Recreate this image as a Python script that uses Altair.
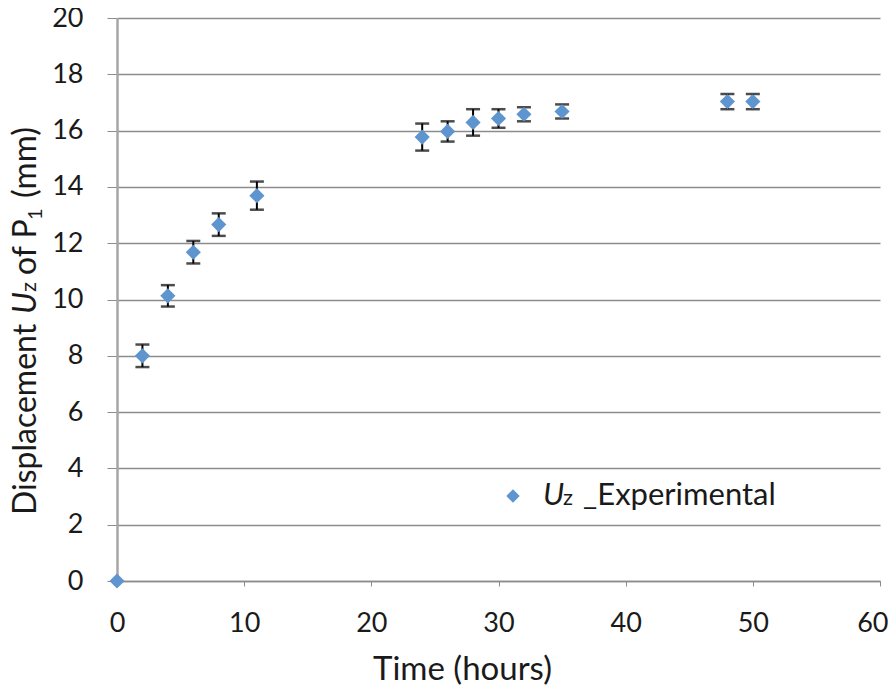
import altair as alt
import pandas as pd

time_h = [0, 2, 4, 6, 8, 11, 24, 26, 28, 30, 32, 35, 48, 50]
disp = [0, 8.0, 10.13, 11.68, 12.66, 13.69, 15.77, 15.97, 16.29, 16.43, 16.58, 16.68, 17.03, 17.03]
err = [0, 0.4, 0.38, 0.4, 0.4, 0.5, 0.48, 0.36, 0.47, 0.33, 0.25, 0.25, 0.27, 0.27]

x_ticks = [0, 10, 20, 30, 40, 50, 60]
y_ticks = list(range(0, 21, 2))

df = pd.DataFrame({"t": time_h, "u": disp, "e": err})
df["lo"] = df["u"] - df["e"]
df["hi"] = df["u"] + df["e"]

FONT = "Lato"
BLUE = "#5f95cf"
TXT = "#1a1a1a"
GRID = "#8c8c8c"

x_enc = alt.X("t:Q", scale=alt.Scale(domain=[0, 60], nice=False),
              axis=alt.Axis(values=x_ticks, title="Time (hours)",
                            grid=False, ticks=True, tickSize=5, tickColor=GRID,
                            labelPadding=24, labelFlush=False, labelBound=False,
                            labelAlign=alt.ExprRef("datum.value == 60 ? 'right' : 'center'"),
                            labelOffset=alt.ExprRef("datum.value == 60 ? 8 : 0"),
                            titleX=345, titleY=98, titleBaseline="alphabetic",
                            titleAlign="center", titleAnchor="start",
                            domainColor=GRID, domainWidth=1.5))
y_axis = alt.Axis(values=y_ticks, title=None,
                  grid=True, gridColor=GRID, gridWidth=1.3,
                  ticks=True, tickSize=10, tickColor=GRID, labelPadding=24,
                  labelFlush=False, labelBound=False,
                  domainColor="#a6a6a6", domainWidth=2.5)

base = alt.Chart(df)

points = base.mark_point(shape="diamond", filled=True, size=230, color=BLUE, opacity=1).encode(
    x=x_enc,
    y=alt.Y("u:Q", scale=alt.Scale(domain=[0, 20], nice=False), axis=y_axis),
)

bars = base.transform_filter("datum.e > 0").mark_errorbar(
    ticks={"size": 14, "thickness": 2.5, "color": "black"}, thickness=2, color="black"
).encode(
    x="t:Q",
    y=alt.Y("lo:Q", title=None),
    y2="hi:Q",
)

one = pd.DataFrame({"k": [0]})


def txt(s, x, y, size, angle=0, italic=False):
    kw = dict(text=s, font=FONT, fontSize=size, align="left", baseline="alphabetic", color=TXT)
    if angle:
        kw["angle"] = angle
    if italic:
        kw["fontStyle"] = "italic"
    return alt.Chart(one).mark_text(**kw).encode(x=alt.value(x), y=alt.value(y))


# legend (inside plot)
leg_pt = alt.Chart(one).mark_point(shape="diamond", filled=True, size=180, color=BLUE, opacity=1).encode(
    x=alt.value(396), y=alt.value(478))
legend = [leg_pt,
          txt("U", 426, 487, 31, italic=True),
          txt("z", 446, 487, 22),
          txt("_Experimental", 466, 487, 31)]

# y-axis title with italic U and subscripts
YX = -81
ytitle = [txt("Displacement", YX, 497, 32, angle=270),
          txt("U", YX, 296, 32, angle=270, italic=True),
          txt("z", YX, 274, 22, angle=270),
          txt("of P", YX, 257, 32, angle=270),
          txt("1", YX + 6, 202, 20, angle=270),
          txt("(mm)", YX, 180, 33, angle=270)]

chart = alt.layer(bars, points, *legend, *ytitle).properties(
    width=763, height=563,
    autosize=alt.AutoSizeParams(type="none"),
    padding={"left": 109, "top": 10, "right": 8, "bottom": 110},
    background="white",
).configure_view(stroke=None).configure_axis(
    labelFont=FONT, titleFont=FONT, labelFontSize=27, titleFontSize=33,
    labelColor=TXT, titleColor=TXT, titleFontWeight="normal",
)

chart.save("out.html", embed_options={"renderer": "svg", "actions": False})
